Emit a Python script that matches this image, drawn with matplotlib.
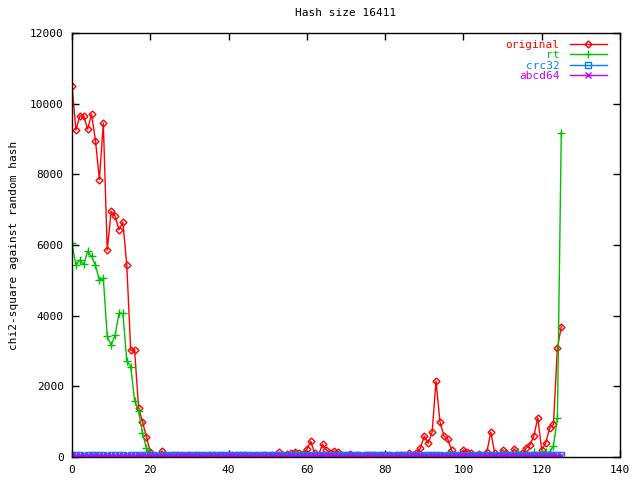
import matplotlib
matplotlib.use("Agg")
import matplotlib.pyplot as plt
import numpy as np

title = "Hash size 16411"
ylabel = "chi2-square against random hash"

x = list(range(126))

original = [
    10500, 9250, 9650, 9650, 9280, 9700, 8950, 7850, 9450, 5850,
    6950, 6820, 6430, 6650, 5420, 3020, 3020, 1400, 1000, 575,
    150, 40, 30, 170, 40, 25, 60, 35, 50, 30,
    45, 20, 55, 40, 30, 65, 45, 25, 50, 35,
    40, 60, 30, 45, 55, 25, 40, 70, 35, 50,
    30, 45, 60, 133, 60, 80, 100, 150, 105, 80,
    218, 445, 105, 60, 360, 200, 110, 170, 150, 60,
    50, 80, 40, 55, 30, 60, 45, 70, 35, 50,
    40, 65, 30, 55, 45, 70, 100, 60, 100, 245,
    595, 387, 700, 2150, 1000, 595, 510, 190, 40, 60,
    200, 150, 100, 40, 80, 40, 150, 707, 100, 40,
    200, 100, 50, 230, 60, 100, 250, 340, 600, 1110,
    200, 390, 810, 925, 3085, 3690,
]

rt = [
    6050, 5425, 5570, 5450, 5820, 5680, 5425, 5000, 5060, 3415,
    3160, 3445, 4065, 4065, 2725, 2555, 1595, 1310, 670, 265,
    80, 30, 25, 40, 20, 35, 30, 45, 25, 30,
    40, 20, 35, 30, 25, 45, 30, 20, 35, 40,
    25, 30, 45, 20, 35, 30, 40, 25, 30, 35,
    20, 40, 30, 25, 45, 35, 30, 100, 30, 110,
    40, 25, 35, 30, 20, 45, 30, 25, 40, 30,
    35, 25, 30, 45, 20, 30, 35, 40, 25, 30,
    40, 30, 25, 35, 45, 30, 20, 35, 30, 40,
    25, 30, 35, 40, 30, 25, 110, 30, 35, 25,
    40, 30, 35, 25, 45, 30, 35, 40, 30, 25,
    100, 30, 40, 35, 130, 40, 35, 30, 130, 40,
    130, 130, 130, 320, 1095, 9180,
]

crc32 = [
    50, 45, 55, 40, 60, 50, 45, 55, 50, 40,
    55, 45, 60, 50, 40, 55, 50, 45, 60, 50,
    45, 55, 40, 50, 60, 45, 50, 55, 40, 50,
    60, 45, 50, 55, 45, 40, 55, 50, 60, 45,
    50, 40, 55, 60, 45, 50, 55, 40, 50, 45,
    60, 50, 45, 55, 40, 50, 60, 45, 55, 50,
    40, 55, 50, 45, 60, 50, 40, 55, 45, 50,
    60, 45, 55, 50, 40, 50, 55, 45, 60, 50,
    45, 55, 40, 50, 60, 45, 50, 55, 45, 40,
    55, 50, 60, 45, 50, 40, 55, 60, 45, 50,
    55, 40, 50, 45, 60, 50, 45, 55, 40, 50,
    60, 45, 50, 55, 45, 40, 55, 50, 60, 45,
    50, 40, 55, 60, 45, 50,
]

abcd64 = [
    20, 30, 15, 25, 35, 20, 30, 25, 15, 30,
    25, 35, 20, 30, 15, 25, 30, 20, 35, 25,
    30, 15, 25, 35, 20, 30, 25, 15, 30, 20,
    35, 25, 30, 20, 15, 30, 25, 35, 20, 25,
    30, 20, 15, 25, 35, 30, 20, 25, 30, 15,
    25, 35, 20, 30, 25, 15, 30, 20, 35, 25,
    20, 30, 25, 15, 35, 25, 30, 20, 25, 30,
    15, 25, 35, 20, 30, 25, 20, 30, 15, 25,
    35, 20, 30, 25, 15, 30, 25, 35, 20, 30,
    25, 15, 30, 20, 35, 25, 30, 20, 15, 25,
    30, 35, 20, 25, 30, 15, 25, 35, 20, 30,
    25, 20, 30, 15, 25, 35, 30, 20, 25, 30,
    15, 25, 35, 20, 30, 25,
]

xticks = [0, 20, 40, 60, 80, 100, 120, 140]
yticks = [0, 2000, 4000, 6000, 8000, 10000, 12000]

plt.rcParams['font.family'] = ['DejaVu Sans Mono']
fig = plt.figure(figsize=(6.4, 4.8), dpi=100)
ax = fig.add_axes([72/640, 23/480, (620-72)/640, (457-33)/480])

series = [
    ("original", original, "#ff0000", "D", 3.5),
    ("rt", rt, "#00c000", "+", 6),
    ("crc32", crc32, "#0080ff", "s", 4),
    ("abcd64", abcd64, "#c000ff", "x", 4),
]
for label, ys, col, mk, ms in series:
    ax.plot(x, ys, color=col, lw=1, marker=mk, ms=ms, mfc='none',
            mec=col, mew=1, label=label)

ax.set_xlim(0, 140)
ax.set_ylim(0, 12000)
ax.set_xticks(xticks)
ax.set_yticks(yticks)
ax.tick_params(direction='in', top=True, right=True, length=5, width=1,
               labelsize=8, pad=6)
for s in ax.spines.values():
    s.set_linewidth(1)
ax.set_title(title, fontsize=8, pad=12)
ax.set_ylabel(ylabel, fontsize=8, labelpad=8)

leg = ax.legend(loc='upper right', frameon=False, markerfirst=False,
                fontsize=8, labelcolor='linecolor', alignment='right',
                handlelength=3.4, labelspacing=0.05, borderaxespad=0.0,
                handletextpad=0.9, bbox_to_anchor=(0.985, 0.995))

fig.savefig("out.png", dpi=100)
